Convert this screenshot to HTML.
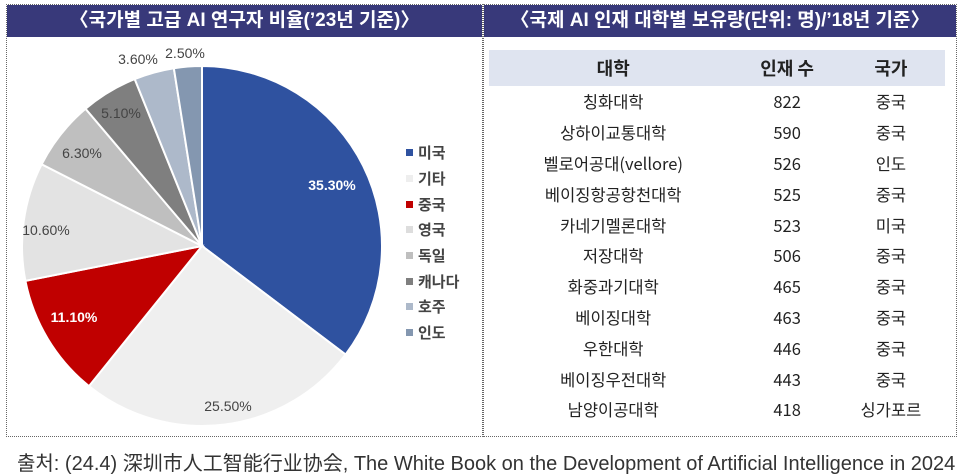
<!DOCTYPE html>
<html><head><meta charset="utf-8"><style>
body{margin:0;width:966px;height:474px;background:#fff;font-family:"Liberation Sans","Noto Sans CJK KR",sans-serif;position:relative;overflow:hidden}
.panel{position:absolute;top:4px;height:433px;border:1px dotted #666;box-sizing:border-box}
.bar{position:absolute;left:0;right:0;top:0;height:32px;background:#38397a;color:#fff;font-size:19px;font-weight:bold;text-align:center;line-height:32px}
.leg{position:absolute;left:406px;font-size:15px;color:#444;font-weight:bold}
.leg i{display:inline-block;width:7px;height:7px;margin-right:5px;vertical-align:2px}
table{position:absolute;left:5px;top:45px;width:456px;border-collapse:collapse;font-size:16.5px;color:#222;font-family:"Noto Sans CJK KR",sans-serif}
td{text-align:center;height:30.8px;padding:0;line-height:30px;vertical-align:middle}
th{background:#dfe4f0;height:34px;font-size:18px}
.foot{position:absolute;left:17px;top:447px;font-size:20px;color:#333;white-space:nowrap}
</style></head><body>
<div class="panel" style="left:6px;width:477px">
<div class="bar">〈국가별 고급 AI 연구자 비율(’23년 기준)〉</div>
</div>
<svg id="pie" width="966" height="474" style="position:absolute;left:0;top:0"></svg>
<div class="leg" style="top:142px"><i style="background:#2f52a0"></i>미국</div>
<div class="leg" style="top:168px"><i style="background:#eeeeee"></i>기타</div>
<div class="leg" style="top:194px"><i style="background:#c00000"></i>중국</div>
<div class="leg" style="top:219px"><i style="background:#dddddd"></i>영국</div>
<div class="leg" style="top:245px"><i style="background:#bfbfbf"></i>독일</div>
<div class="leg" style="top:271px"><i style="background:#7f7f7f"></i>캐나다</div>
<div class="leg" style="top:296px"><i style="background:#adb9ca"></i>호주</div>
<div class="leg" style="top:322px"><i style="background:#8497b0"></i>인도</div>
<div class="panel" style="left:483px;width:474px">
<div class="bar">〈국제 AI 인재 대학별 보유량(단위: 명)/’18년 기준〉</div>
<table>
<tr><th>대학</th><th>인재 수</th><th>국가</th></tr>
<tr><td>칭화대학</td><td>822</td><td>중국</td></tr>
<tr><td>상하이교통대학</td><td>590</td><td>중국</td></tr>
<tr><td>벨로어공대(vellore)</td><td>526</td><td>인도</td></tr>
<tr><td>베이징항공항천대학</td><td>525</td><td>중국</td></tr>
<tr><td>카네기멜론대학</td><td>523</td><td>미국</td></tr>
<tr><td>저장대학</td><td>506</td><td>중국</td></tr>
<tr><td>화중과기대학</td><td>465</td><td>중국</td></tr>
<tr><td>베이징대학</td><td>463</td><td>중국</td></tr>
<tr><td>우한대학</td><td>446</td><td>중국</td></tr>
<tr><td>베이징우전대학</td><td>443</td><td>중국</td></tr>
<tr><td>남양이공대학</td><td>418</td><td>싱가포르</td></tr>
</table>
</div>
<div class="foot">출처: (24.4) 深圳市人工智能行业协会, The White Book on the Development of Artificial Intelligence in 2024</div>
<script>
var cx=202,cy=246,r=180;
var d=[[35.3,"#2f52a0"],[25.5,"#efefef"],[11.1,"#c00000"],[10.6,"#e3e3e3"],[6.3,"#bfbfbf"],[5.1,"#7f7f7f"],[3.6,"#adb9ca"],[2.5,"#8497b0"]];
var s="",a=0;
d.forEach(function(p){var a0=a/100*2*Math.PI,a1=(a+p[0])/100*2*Math.PI;a+=p[0];
var x0=cx+r*Math.sin(a0),y0=cy-r*Math.cos(a0),x1=cx+r*Math.sin(a1),y1=cy-r*Math.cos(a1);
s+='<path d="M'+cx+','+cy+'L'+x0+','+y0+'A'+r+','+r+' 0 '+(p[0]>50?1:0)+',1 '+x1+','+y1+'Z" fill="'+p[1]+'" stroke="#fff" stroke-width="2"/>';});
var L=[[332,190,"35.30%","#fff",1],[228,411,"25.50%","#444",0],[74,322,"11.10%","#fff",1],[46,235,"10.60%","#444",0],[82,158,"6.30%","#444",0],[121,118,"5.10%","#444",0],[138,64,"3.60%","#444",0],[185,58,"2.50%","#444",0]];
L.forEach(function(l){s+='<text x="'+l[0]+'" y="'+l[1]+'" text-anchor="middle" font-size="14" fill="'+l[3]+'" font-weight="'+(l[4]?'bold':'normal')+'" font-family="Liberation Sans,sans-serif">'+l[2]+'</text>';});
document.getElementById('pie').innerHTML=s;
</script>
</body></html>
